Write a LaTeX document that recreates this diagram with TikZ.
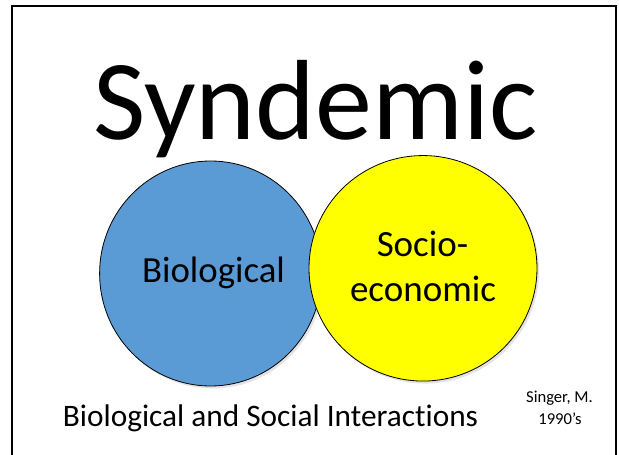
\documentclass[tikz,border=0pt]{standalone}
\usepackage{fontspec}
\setmainfont{Carlito}[Ligatures=NoCommon]
\usetikzlibrary{shapes.geometric,shadows}
\definecolor{bioblue}{HTML}{5B9BD5}
\definecolor{socyellow}{HTML}{FFFF00}
\tikzset{
  venn/.style={ellipse, draw=black, line width=0.8pt, inner sep=0pt,
    drop shadow={opacity=0.22, shadow xshift=2pt, shadow yshift=-2.5pt}},
  lbl/.style={anchor=base, inner sep=0pt, text=black},
}
\begin{document}
\begin{tikzpicture}[x=1pt,y=-1pt]
\useasboundingbox (0,0) rectangle (619,455);
\fill[white] (0,0) rectangle (619,455);
\draw[line width=2pt] (12.3,470) |- (616,6) -- (616,470);
\node[venn, fill=bioblue, minimum width=222pt, minimum height=225pt] (bio) at (210.6,273.5) {};
\node[venn, fill=socyellow, minimum width=228pt, minimum height=225.5pt] (soc) at (423,268.3) {};
\node[lbl, font=\fontsize{114}{114}\selectfont] (title) at (315.5,139) {Syndemic};
\node[lbl, font=\fontsize{36.8}{36.8}\selectfont] (biot) at (213.5,282.7) {Biological};
\node[lbl, font=\fontsize{37}{37}\selectfont] (soct1) at (422.5,256.7) {Socio-};
\node[lbl, font=\fontsize{37}{37}\selectfont] (soct2) at (423,301.7) {economic};
\node[lbl, font=\fontsize{31.3}{31.3}\selectfont] (caption) at (270.5,426) {Biological and Social Interactions};
\node[lbl, font=\fontsize{16.6}{16.6}\selectfont] (auth1) at (559.5,402.3) {Singer, M.};
\node[lbl, font=\fontsize{16.6}{16.6}\selectfont] (auth2) at (560,424.3) {1990’s};
\end{tikzpicture}
\end{document}
